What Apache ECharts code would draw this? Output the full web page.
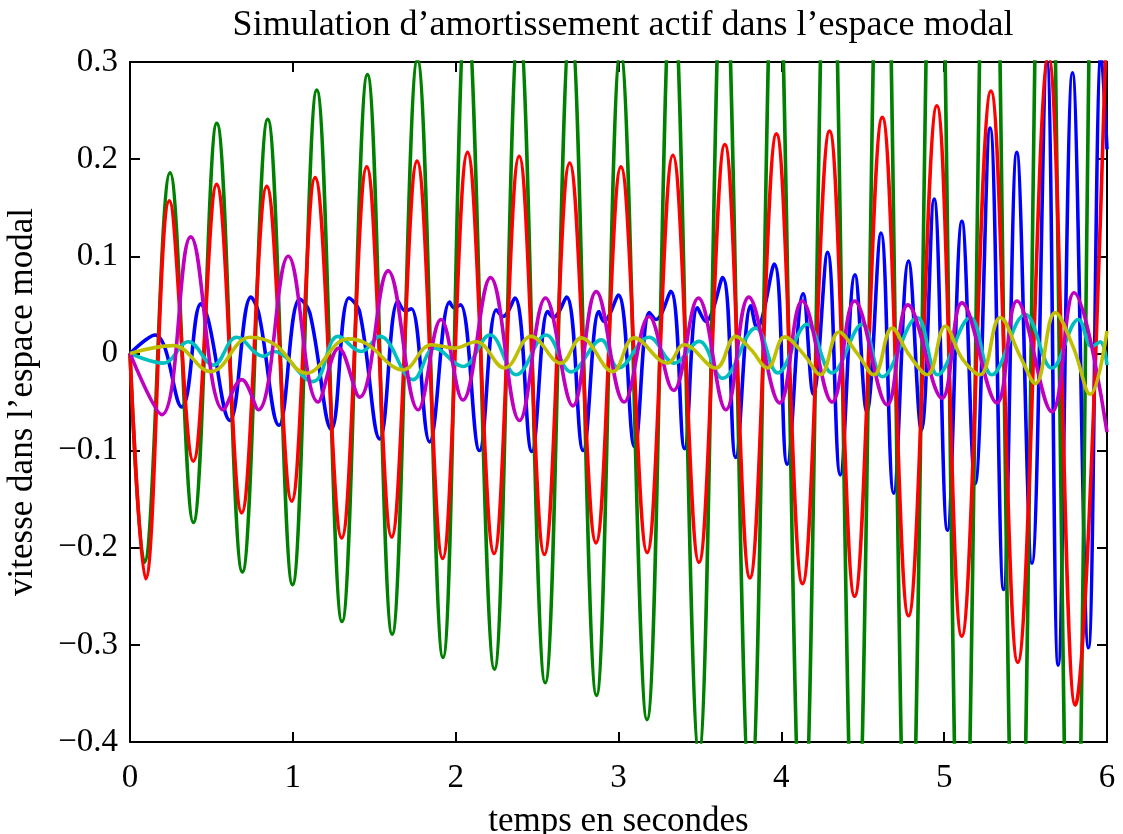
<!DOCTYPE html>
<html>
<head>
<meta charset="utf-8">
<script src="https://cdn.jsdelivr.net/npm/echarts@6/dist/echarts.min.js"></script>
<style>
  html, body { margin: 0; padding: 0; background: #fff; }
  #main { width: 1123px; height: 834px; }
</style>
</head>
<body>
<div id="main"></div>
<script>
// valeurs : [temps (s), vitesse]
var modeBleu = [
  [0, 0], [0.154, 0.019], [0.317, -0.055], [0.436, 0.051], [0.48, 0.035],
  [0.614, -0.069], [0.743, 0.058], [0.79, 0.042], [0.915, -0.074], [1.042, 0.056],
  [1.104, 0.042], [1.237, -0.078], [1.345, 0.057], [1.41, 0.043], [1.534, -0.088],
  [1.646, 0.054], [1.69, 0.044], [1.728, 0.046], [1.84, -0.091], [1.963, 0.053],
  [1.99, 0.047], [2.03, 0.05], [2.146, -0.1], [2.25, 0.045], [2.29, 0.038],
  [2.363, 0.057], [2.468, -0.101], [2.566, 0.043], [2.6, 0.037], [2.68, 0.058],
  [2.783, -0.1], [2.88, 0.043], [2.91, 0.033], [2.998, 0.06], [3.099, -0.096],
  [3.19, 0.042], [3.23, 0.035], [3.32, 0.064], [3.406, -0.098], [3.485, 0.047],
  [3.536, 0.033], [3.639, 0.078], [3.72, -0.107], [3.813, 0.049], [3.85, 0.026],
  [3.956, 0.092], [4.036, -0.114], [4.134, 0.0615], [4.197, -0.042], [4.284, 0.104],
  [4.362, -0.125], [4.452, 0.081], [4.525, -0.06], [4.612, 0.124], [4.69, -0.144],
  [4.781, 0.095], [4.86, -0.079], [4.938, 0.159], [5.02, -0.182], [5.109, 0.136],
  [5.19, -0.134], [5.282, 0.232], [5.365, -0.243], [5.446, 0.207], [5.539, -0.216],
  [5.631, 0.3], [5.7, -0.321], [5.788, 0.289], [5.886, -0.303], [5.965, 0.31],
  [6.0, 0.21]
];
var modeVert = [
  [0, 0], [0.088, -0.215], [0.246, 0.186], [0.389, -0.174], [0.533, 0.237],
  [0.69, -0.225], [0.846, 0.241], [0.998, -0.238], [1.147, 0.271], [1.302, -0.276],
  [1.458, 0.287], [1.61, -0.289], [1.765, 0.302], [1.922, -0.313], [2.066, 0.36],
  [2.238, -0.325], [2.389, 0.34], [2.55, -0.339], [2.706, 0.34], [2.865, -0.352],
  [3.012, 0.31], [3.175, -0.377], [3.33, 0.39], [3.494, -0.41], [3.645, 0.43],
  [3.81, -0.46], [3.965, 0.48], [4.13, -0.52], [4.292, 0.55], [4.455, -0.56],
  [4.62, 0.6], [4.78, -0.6], [4.948, 0.65], [5.11, -0.64], [5.28, 0.7],
  [5.45, -0.67], [5.62, 0.72], [5.79, -0.7], [5.955, 0.74], [6.0, 0.6]
];
var modeRouge = [
  [0, 0], [0.096, -0.232], [0.242, 0.157], [0.389, -0.111], [0.532, 0.174],
  [0.686, -0.164], [0.84, 0.172], [0.993, -0.152], [1.137, 0.181], [1.3, -0.19],
  [1.454, 0.192], [1.607, -0.189], [1.763, 0.198], [1.92, -0.211], [2.073, 0.207],
  [2.236, -0.206], [2.39, 0.203], [2.545, -0.207], [2.7, 0.196], [2.862, -0.195],
  [3.015, 0.192], [3.176, -0.205], [3.334, 0.204], [3.494, -0.215], [3.653, 0.215],
  [3.807, -0.231], [3.97, 0.226], [4.13, -0.237], [4.296, 0.229], [4.45, -0.25],
  [4.62, 0.243], [4.781, -0.27], [4.955, 0.255], [5.108, -0.291], [5.287, 0.27],
  [5.452, -0.318], [5.64, 0.305], [5.805, -0.362], [6.0, 0.36]
];
var modeCyan = [
  [0, 0], [0.205, -0.01], [0.358, 0.012], [0.512, -0.012], [0.655, 0.0166],
  [0.82, -0.003], [0.88, 0.002], [1.124, -0.029], [1.278, 0.0176], [1.42, 0.002],
  [1.534, 0.0176], [1.738, -0.027], [1.872, 0.0055], [2.044, -0.0135], [2.21, 0.019],
  [2.372, -0.022], [2.556, 0.019], [2.71, -0.019], [2.894, 0.014], [3.0, -0.015],
  [3.188, 0.0166], [3.342, -0.01], [3.495, 0.0124], [3.639, -0.0256], [3.843, 0.026],
  [3.978, -0.02], [4.158, 0.03], [4.312, -0.02], [4.496, 0.03], [4.62, -0.024],
  [4.834, 0.037], [4.96, -0.022], [5.16, 0.037], [5.293, -0.022], [5.498, 0.04],
  [5.662, -0.015], [5.825, 0.035], [5.907, 0.007], [5.958, 0.012], [6.0, -0.012]
];
var modeMagenta = [
  [0, 0], [0.195, -0.063], [0.373, 0.12], [0.573, -0.058], [0.686, -0.027],
  [0.788, -0.058], [0.972, 0.1], [1.155, -0.05], [1.282, 0.0055], [1.41, -0.045],
  [1.585, 0.085], [1.77, -0.058], [1.91, 0.035], [2.044, -0.048], [2.214, 0.078],
  [2.392, -0.069], [2.552, 0.057], [2.72, -0.054], [2.863, 0.0636], [3.035, -0.05],
  [3.188, 0.038], [3.338, -0.038], [3.49, 0.057], [3.66, -0.058], [3.8, 0.058],
  [3.99, -0.051], [4.128, 0.054], [4.312, -0.05], [4.45, 0.054], [4.65, -0.053],
  [4.777, 0.05], [4.987, -0.046], [5.109, 0.052], [5.324, -0.051], [5.447, 0.054],
  [5.662, -0.06], [5.797, 0.0625], [6.0, -0.081]
];
var modeJaune = [
  [0, 0], [0.266, 0.008], [0.497, -0.0187], [0.737, 0.0166], [0.891, 0.009],
  [1.083, -0.0204], [1.339, 0.015], [1.452, 0.01], [1.677, -0.017], [1.852, 0.009],
  [1.994, 0.0055], [2.125, 0.012], [2.3, -0.015], [2.463, 0.0176], [2.646, -0.01],
  [2.771, 0.016], [2.965, -0.0187], [3.096, 0.016], [3.301, -0.01], [3.403, 0.009],
  [3.598, -0.015], [3.72, 0.0176], [3.813, 0.004], [3.915, -0.015], [4.02, 0.017],
  [4.138, -0.001], [4.24, -0.022], [4.354, 0.022], [4.466, 0.0], [4.568, -0.022],
  [4.68, 0.026], [4.783, -0.001], [4.896, -0.022], [5.007, 0.028], [5.109, -0.005],
  [5.22, -0.022], [5.344, 0.037], [5.467, -0.003], [5.56, -0.031], [5.682, 0.042],
  [5.795, 0.0055], [5.897, -0.042], [6.0, 0.023]
];

var couleurs = ["#0000ff", "#008000", "#ff0000", "#00bfbf", "#bf00bf", "#bfbf00"];
var modes = [modeBleu, modeVert, modeRouge, modeCyan, modeMagenta, modeJaune];

var police = "Liberation Serif";
var noir = "#000";

function etiquetteY(v) {
  if (Math.abs(v) < 1e-9) return "0";
  return (v < 0 ? "\u2212" : "") + Math.abs(v).toFixed(1);
}

var myChart = echarts.init(document.getElementById("main"));

var axeCommun = {
  axisLine: { show: true, onZero: false, lineStyle: { color: noir, width: 2 } },
  axisTick: { show: true, inside: true, length: 10, lineStyle: { color: noir, width: 2 } },
  splitLine: { show: false }
};

myChart.setOption({
  backgroundColor: "#fff",
  animation: false,
  title: {
    text: "Simulation d\u2019amortissement actif dans l\u2019espace modal",
    left: 618,
    textAlign: "center",
    top: 3,
    textStyle: { fontFamily: police, fontSize: 36, fontWeight: "normal", color: noir }
  },
  grid: { left: 130, right: 16, top: 62, bottom: 92, outerBoundsMode: "none", containLabel: false },
  xAxis: [
    Object.assign({}, axeCommun, {
      type: "value", min: 0, max: 6, interval: 1, position: "bottom",
      name: "temps en secondes", nameLocation: "middle", nameGap: 62,
      nameTextStyle: { fontFamily: police, fontSize: 35, color: noir },
      axisLabel: { fontFamily: police, fontSize: 33, color: noir, margin: 20 }
    }),
    Object.assign({}, axeCommun, {
      type: "value", min: 0, max: 6, interval: 1, position: "top",
      axisLabel: { show: false }
    })
  ],
  yAxis: [
    Object.assign({}, axeCommun, {
      type: "value", min: -0.4, max: 0.3, interval: 0.1, position: "left",
      name: "vitesse dans l\u2019espace modal", nameLocation: "middle", nameGap: 90,
      nameTextStyle: { fontFamily: police, fontSize: 35, color: noir },
      axisLabel: { fontFamily: police, fontSize: 33, color: noir, margin: 12, formatter: etiquetteY }
    }),
    Object.assign({}, axeCommun, {
      type: "value", min: -0.4, max: 0.3, interval: 0.1, position: "right",
      axisLabel: { show: false }
    })
  ],
  series: modes.map(function (d, i) {
    return {
      type: "line",
      xAxisIndex: 0,
      yAxisIndex: 0,
      data: d,
      smooth: 0.4,
      showSymbol: false,
      clip: true,
      lineStyle: { color: couleurs[i], width: 3.6 },
      itemStyle: { color: couleurs[i] },
      emphasis: { disabled: true }
    };
  })
});
</script>
</body>
</html>
